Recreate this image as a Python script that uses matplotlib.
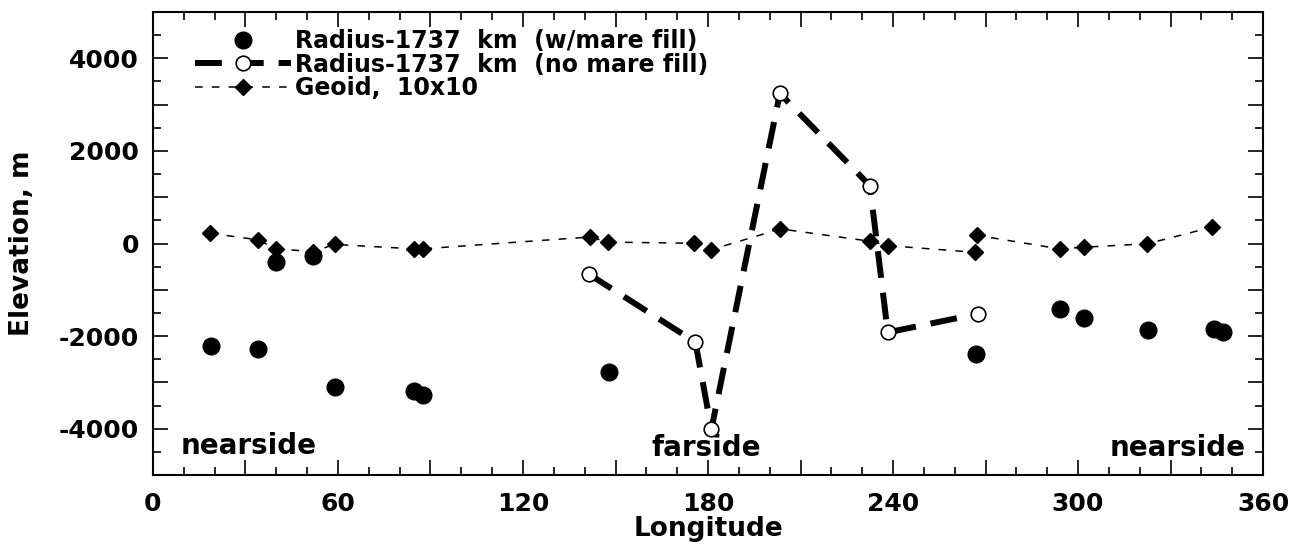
import numpy as np
import matplotlib
matplotlib.use('Agg')
import matplotlib.pyplot as plt
from matplotlib.ticker import MultipleLocator

# Radius-1737 km, basins with mare fill (longitude deg, elevation m)
mare_lon = [18.8, 34.2, 39.9, 52.0, 59.1, 84.5, 87.7, 147.8, 266.8, 294.0, 302.0, 322.7, 344.1, 346.9]
mare_elev = [-2220, -2280, -400, -260, -3100, -3180, -3270, -2780, -2390, -1410, -1610, -1870, -1850, -1920]

# Radius-1737 km, mare fill removed
nomare_lon = [141.3, 175.9, 181.1, 203.3, 232.5, 238.3, 267.5]
nomare_elev = [-660, -2130, -4010, 3240, 1250, -1920, -1520]

# Geoid, 10x10 field
geoid_lon = [18.5, 34.0, 39.9, 52.0, 58.9, 84.5, 87.5, 141.6, 147.6, 175.6, 181.0,
             203.5, 232.5, 238.3, 266.5, 267.3, 294.0, 302.0, 322.5, 343.6]
geoid_elev = [220, 80, -115, -175, -20, -115, -115, 140, 30, 5, -135,
              315, 50, -45, -190, 175, -115, -80, -5, 355]

xtick_labels = ['0', '60', '120', '180', '240', '300', '360']
ytick_labels = ['-4000', '-2000', '0', '2000', '4000']

plt.rcParams['font.family'] = ['DejaVu Sans']
plt.rcParams['font.weight'] = 'bold'

fig = plt.figure(figsize=(13.11, 5.56), dpi=100)
ax = fig.add_axes([0.1167, 0.1457, 0.8467, 0.8327])

l_geoid, = ax.plot(geoid_lon, geoid_elev, color='black', lw=1.1, ls=(0, (5, 6)),
                   marker='D', ms=8.5, label='Geoid,  10x10', zorder=2)
l_mare, = ax.plot(mare_lon, mare_elev, ls='none', marker='o', color='black', ms=12,
                  label='Radius-1737  km  (w/mare fill)', zorder=3)
l_nomare, = ax.plot(nomare_lon, nomare_elev, color='black', lw=4.3, ls=(0, (4.5, 2.5)),
                    marker='o', ms=10.5, mfc='white', mec='black', mew=1.2,
                    label='Radius-1737  km  (no mare fill)', zorder=4)

ax.set_xlim(0, 360)
ax.set_ylim(-5000, 5000)

# long ticks every 30 deg / 1000 m, labels only every 60 deg / 2000 m
xt = np.arange(0, 361, 30)
xlab = dict(zip([int(s) for s in xtick_labels], xtick_labels))
ax.set_xticks(xt)
ax.set_xticklabels([xlab.get(int(v), '') for v in xt])
yt = np.arange(-5000, 5001, 1000)
ylab = dict(zip([int(s) for s in ytick_labels], ytick_labels))
ax.set_yticks(yt)
ax.set_yticklabels([ylab.get(int(v), '') for v in yt])
ax.xaxis.set_minor_locator(MultipleLocator(10))
ax.yaxis.set_minor_locator(MultipleLocator(500))

ax.tick_params(which='both', direction='in', top=True, right=True, width=1.2)
ax.tick_params(which='major', length=10.5, labelsize=18)
ax.tick_params(axis='x', which='major', pad=12)
ax.tick_params(axis='y', which='major', pad=10)
ax.tick_params(which='minor', length=5.5)
for sp in ax.spines.values():
    sp.set_linewidth(1.5)

ax.set_xlabel('Longitude', fontsize=19, fontweight='bold', labelpad=0.5)
ax.set_ylabel('Elevation, m', fontsize=19, fontweight='bold', labelpad=17)

ax.text(8.8, -4540, 'nearside', fontsize=20, fontweight='bold', ha='left', va='baseline')
ax.text(179.5, -4580, 'farside', fontsize=20, fontweight='bold', ha='center', va='baseline')
ax.text(354.4, -4580, 'nearside', fontsize=20, fontweight='bold', ha='right', va='baseline')

ax.legend(handles=[l_mare, l_nomare, l_geoid], loc='upper left',
          bbox_to_anchor=(0.0378, 0.9630), frameon=False,
          handlelength=4.05, handletextpad=0.2, labelspacing=-0.02,
          borderpad=0, borderaxespad=0, numpoints=1,
          prop={'weight': 'bold', 'size': 17})

fig.savefig('out.png', dpi=100)
